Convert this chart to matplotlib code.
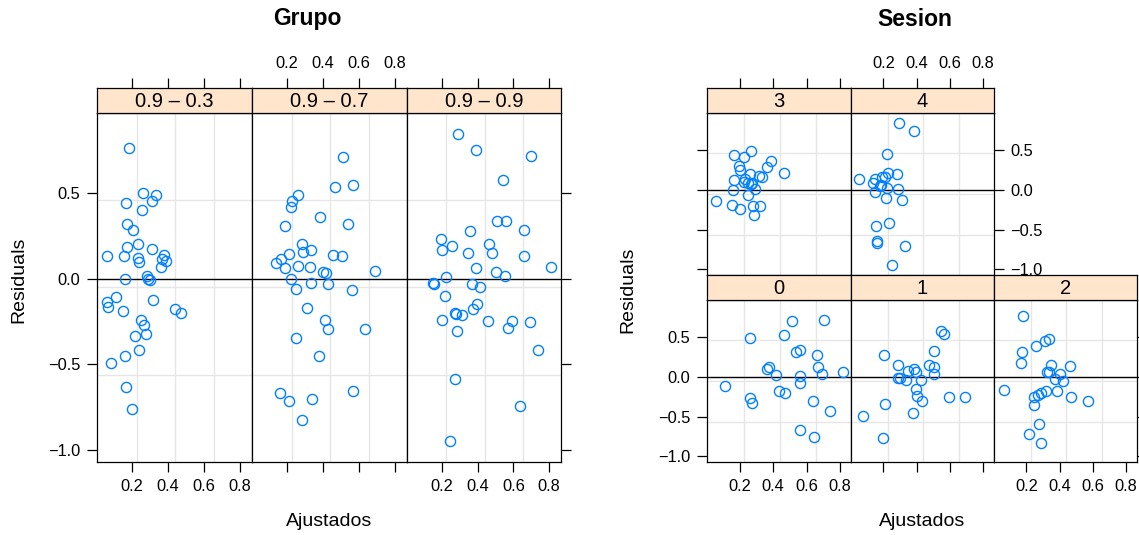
import matplotlib

matplotlib.use("Agg")
import matplotlib.pyplot as plt

plt.rcParams["font.family"] = ["Liberation Sans", "DejaVu Sans"]

# --- datos (ajustados, residuos) ---
grupo_labels = ["0.9 \u2013 0.3", "0.9 \u2013 0.7", "0.9 \u2013 0.9"]

g03_x = [0.182, 0.259, 0.335, 0.308, 0.165, 0.254, 0.172, 0.206, 0.169, 0.232,
         0.311, 0.061, 0.154, 0.230, 0.237, 0.376, 0.365, 0.387, 0.358, 0.158,
         0.283, 0.291, 0.298, 0.113, 0.058, 0.067, 0.152, 0.315, 0.437, 0.469,
         0.248, 0.267, 0.278, 0.215, 0.237, 0.158, 0.083, 0.165, 0.200]
g03_y = [0.767, 0.503, 0.489, 0.457, 0.444, 0.403, 0.323, 0.287, 0.188, 0.203,
         0.176, 0.135, 0.135, 0.125, 0.101, 0.137, 0.115, 0.104, 0.069, -0.002,
         0.014, -0.002, -0.008, -0.107, -0.135, -0.166, -0.186, -0.121, -0.174, -0.197,
         -0.240, -0.270, -0.321, -0.332, -0.414, -0.450, -0.491, -0.635, -0.764]

g07_x = [0.511, 0.465, 0.565, 0.263, 0.226, 0.222, 0.382, 0.539, 0.191, 0.283,
         0.289, 0.330, 0.211, 0.456, 0.506, 0.165, 0.136, 0.189, 0.263, 0.328,
         0.397, 0.415, 0.687, 0.222, 0.333, 0.426, 0.247, 0.561, 0.309, 0.408,
         0.428, 0.633, 0.248, 0.378, 0.161, 0.565, 0.211, 0.336, 0.283]
g07_y = [0.712, 0.535, 0.549, 0.489, 0.453, 0.422, 0.362, 0.323, 0.307, 0.205,
         0.160, 0.168, 0.147, 0.141, 0.133, 0.115, 0.090, 0.065, 0.076, 0.069,
         0.041, 0.033, 0.047, 0.000, -0.025, -0.031, -0.060, -0.065, -0.172, -0.239,
         -0.295, -0.295, -0.344, -0.452, -0.669, -0.659, -0.717, -0.704, -0.829]

g09_x = [0.291, 0.389, 0.696, 0.544, 0.506, 0.559, 0.657, 0.357, 0.196, 0.257,
         0.200, 0.463, 0.479, 0.346, 0.661, 0.393, 0.502, 0.554, 0.809, 0.224,
         0.152, 0.154, 0.368, 0.411, 0.219, 0.396, 0.374, 0.274, 0.313, 0.278,
         0.198, 0.459, 0.594, 0.567, 0.693, 0.283, 0.735, 0.274, 0.635, 0.248]
g09_y = [0.849, 0.755, 0.721, 0.579, 0.336, 0.336, 0.285, 0.283, 0.235, 0.192,
         0.170, 0.207, 0.154, 0.152, 0.131, 0.066, 0.041, 0.016, 0.070, 0.012,
         -0.025, -0.029, -0.029, -0.049, -0.102, -0.149, -0.174, -0.202, -0.209, -0.205,
         -0.239, -0.244, -0.248, -0.289, -0.250, -0.305, -0.416, -0.587, -0.747, -0.950]

sesion_labels = ["0", "1", "2", "3", "4"]

s0_x = [0.516, 0.702, 0.260, 0.468, 0.540, 0.564, 0.662, 0.666, 0.694, 0.816,
        0.374, 0.364, 0.420, 0.560, 0.564, 0.114, 0.438, 0.472, 0.264, 0.276,
        0.640, 0.740, 0.564, 0.642]
s0_y = [0.707, 0.716, 0.497, 0.530, 0.320, 0.337, 0.278, 0.126, 0.043, 0.068,
        0.126, 0.106, 0.021, 0.009, -0.071, -0.114, -0.177, -0.202, -0.265, -0.324,
        -0.303, -0.425, -0.669, -0.753]

s1_x = [0.544, 0.566, 0.202, 0.506, 0.290, 0.476, 0.506, 0.350, 0.386, 0.394,
        0.504, 0.288, 0.298, 0.336, 0.428, 0.396, 0.404, 0.430, 0.596, 0.692,
        0.210, 0.080, 0.376, 0.196]
s1_y = [0.577, 0.548, 0.283, 0.333, 0.156, 0.152, 0.123, 0.076, 0.097, 0.063,
        0.034, -0.008, -0.016, -0.033, -0.033, -0.151, -0.244, -0.298, -0.252, -0.256,
        -0.341, -0.492, -0.458, -0.770]

s2_x = [0.178, 0.338, 0.310, 0.258, 0.172, 0.166, 0.350, 0.462, 0.324, 0.334,
        0.402, 0.374, 0.418, 0.382, 0.066, 0.316, 0.290, 0.270, 0.246, 0.466,
        0.572, 0.248, 0.278, 0.214, 0.286]
s2_y = [0.763, 0.485, 0.455, 0.396, 0.320, 0.182, 0.152, 0.135, 0.068, 0.060,
        0.034, -0.029, -0.054, -0.177, -0.168, -0.172, -0.202, -0.222, -0.247, -0.247,
        -0.298, -0.357, -0.597, -0.719, -0.837]

s3_x = [0.266, 0.164, 0.226, 0.386, 0.196, 0.364, 0.200, 0.468, 0.262, 0.314,
        0.334, 0.166, 0.234, 0.224, 0.274, 0.250, 0.290, 0.158, 0.250, 0.060,
        0.152, 0.204, 0.280, 0.320, 0.286, 0.270]
s3_y = [0.492, 0.446, 0.421, 0.366, 0.303, 0.287, 0.253, 0.210, 0.198, 0.177,
        0.168, 0.126, 0.135, 0.105, 0.085, 0.085, 0.013, -0.004, -0.063, -0.135,
        -0.189, -0.240, -0.202, -0.206, -0.312, 0.070]

s4_x = [0.292, 0.386, 0.224, 0.056, 0.284, 0.226, 0.210, 0.190, 0.150, 0.136,
        0.186, 0.220, 0.286, 0.150, 0.218, 0.312, 0.154, 0.234, 0.162, 0.162,
        0.332, 0.250, 0.180]
s4_y = [0.850, 0.749, 0.455, 0.139, 0.198, 0.211, 0.168, 0.160, 0.143, 0.092,
        0.063, 0.021, 0.013, -0.029, -0.101, -0.126, -0.451, -0.421, -0.640, -0.673,
        -0.703, -0.951, 0.050]

x_ticks = [0.2, 0.4, 0.6, 0.8]
y_ticks = [-1.0, -0.5, 0.0, 0.5]
# la rejilla del panel no coincide con los ticks en el original
grid_x = [0.225, 0.441, 0.656]
grid_y = [0.463, -0.05, -0.565]

XLIM = (0.005, 0.866)
YLIM = (-1.072, 0.971)
W, H = 1139, 535
STRIP = "#ffe5cc"
PT_COL = "#0080ff"
TICK_FS = 11.8


def rect(x0, y0, x1, y1):
    # pixeles (origen arriba a la izquierda) -> fraccion de figura
    return [x0 / W, 1 - y1 / H, (x1 - x0) / W, (y1 - y0) / H]


def fmt(v):
    return f"{v:.1f}".replace("-", "\u2212")


def panel(fig, x0, x1, ytop, ybot, label, xs, ys, left=None, right=None, bottom=None, top=None):
    """left/right/bottom/top: None = sin ticks, False = ticks sin etiquetas, True = ticks con etiquetas."""
    strip_h = 25
    ax = fig.add_axes(rect(x0, ytop + strip_h, x1, ybot))
    st = fig.add_axes(rect(x0, ytop, x1, ytop + strip_h))

    for v in grid_x:
        ax.axvline(v, color="#e6e6e6", lw=1, zorder=0)
    for v in grid_y:
        ax.axhline(v, color="#e6e6e6", lw=1, zorder=0)
    ax.axhline(0, color="black", lw=1, zorder=1)
    ax.plot(xs, ys, "o", mfc="none", mec=PT_COL, ms=7.3, mew=1, zorder=2)
    ax.set_xlim(*XLIM)
    ax.set_ylim(*YLIM)

    ax.set_xticks(x_ticks, [f"{v:.1f}" for v in x_ticks])
    ax.set_yticks(y_ticks, [fmt(v) for v in y_ticks])
    ax.tick_params(length=7, width=0.9, pad=5, labelsize=TICK_FS, direction="out",
                   bottom=bottom is not None, labelbottom=bool(bottom),
                   top=False, labeltop=False,
                   left=left is not None, labelleft=bool(left),
                   right=right is not None, labelright=bool(right))

    st.set_facecolor(STRIP)
    st.set_xlim(*XLIM)
    st.set_yticks([])
    st.set_xticks(x_ticks, [f"{v:.1f}" for v in x_ticks])
    st.tick_params(axis="x", length=7, width=0.9, pad=5, labelsize=TICK_FS, direction="out",
                   bottom=False, labelbottom=False,
                   top=top is not None, labeltop=bool(top))
    st.text(0.5, 0.47, label, transform=st.transAxes, ha="center", va="center", fontsize=14.5)

    for a in (ax, st):
        for s in a.spines.values():
            s.set_linewidth(0.9)
    return ax


fig = plt.figure(figsize=(W / 100, H / 100), dpi=100)

# ---- Grupo ----
gx = [97, 252, 407, 561]
panel(fig, gx[0], gx[1], 88, 462, grupo_labels[0], g03_x, g03_y, left=True, bottom=True, top=False)
panel(fig, gx[1], gx[2], 88, 462, grupo_labels[1], g07_x, g07_y, bottom=False, top=True)
panel(fig, gx[2], gx[3], 88, 462, grupo_labels[2], g09_x, g09_y, right=False, bottom=True, top=False)

fig.text(307 / W, 1 - 19 / H, "Grupo", ha="center", va="center", fontsize=16.5, fontweight="bold")
fig.text(329 / W, 1 - 521 / H, "Ajustados", ha="center", va="center", fontsize=14)
fig.text(19 / W, 1 - 280 / H, "Residuals", ha="center", va="center", rotation=90, fontsize=14)

# ---- Sesion ----
sx = [707, 851, 994, 1137]
panel(fig, sx[0], sx[1], 88, 275, sesion_labels[3], s3_x, s3_y, left=False, top=False)
panel(fig, sx[1], sx[2], 88, 275, sesion_labels[4], s4_x, s4_y, right=True, top=True)
panel(fig, sx[0], sx[1], 275, 462, sesion_labels[0], s0_x, s0_y, left=True, bottom=True)
panel(fig, sx[1], sx[2], 275, 462, sesion_labels[1], s1_x, s1_y, bottom=False)
panel(fig, sx[2], sx[3], 275, 462, sesion_labels[2], s2_x, s2_y, right=False, bottom=True)

fig.text(915 / W, 1 - 19 / H, "Sesion", ha="center", va="center", fontsize=16.5, fontweight="bold")
fig.text(922 / W, 1 - 521 / H, "Ajustados", ha="center", va="center", fontsize=14)
fig.text(628 / W, 1 - 290 / H, "Residuals", ha="center", va="center", rotation=90, fontsize=14)

fig.savefig("out.png", dpi=100)
